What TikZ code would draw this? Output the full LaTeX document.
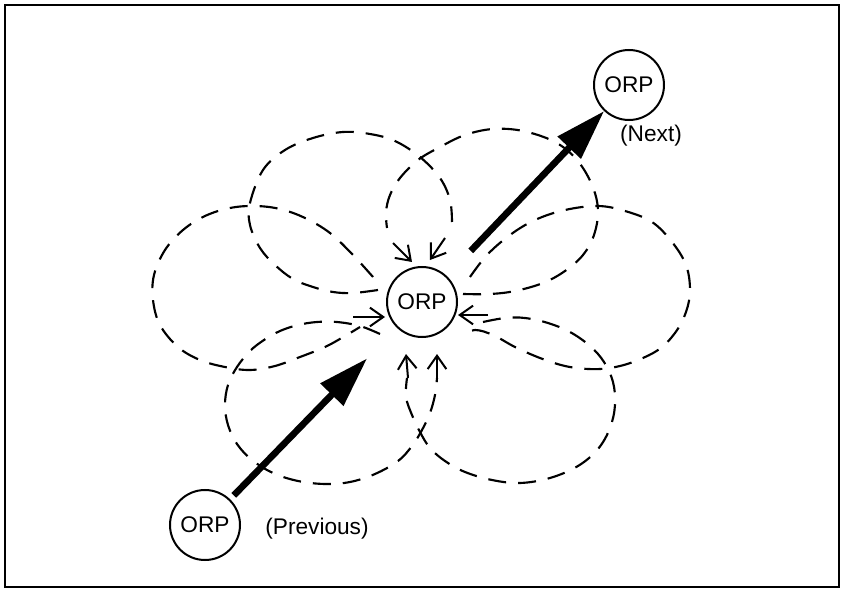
\documentclass[tikz,border=0pt]{standalone}
\usepackage{fontspec}
\setmainfont{Liberation Sans}
\usetikzlibrary{arrows.meta}
\begin{document}
\begin{tikzpicture}[x=0.75pt,y=-0.75pt,
  orp/.style={draw,circle,line width=1.5pt,minimum size=52.5pt,inner sep=0pt,font=\fontsize{17}{20}\selectfont},
  lbl/.style={font=\fontsize{17}{20}\selectfont,inner sep=0pt},
  petal/.style={line width=1.6pt,dash pattern=on 13.5pt off 9pt},
  small/.style={line width=1.5pt,-{Straight Barb[length=10pt,width=14pt,line width=1.5pt]}},
  big/.style={line width=5pt,-{Triangle[length=38pt,width=23pt]}}]
\useasboundingbox (0,0) rectangle (844,592);
\draw[line width=1.3pt] (5,5) rectangle (839,587);
\node[orp] (c) at (422,302) {ORP};
\node[orp] (nx) at (629,85) {ORP};
\node[orp] (pv) at (205,525) {ORP};
\node[lbl] (lnx) at (651,136) {(Next)};
\node[lbl] (lpv) at (317,529) {(Previous)};
% petals
\draw[petal] plot[smooth,tension=0.6] coordinates {(378,290) (353,293) (333,292) (313,287) (293,279) (275,265) (260,248) (250,225) (250,203) (263,170) (285,150) (313,138) (343,132) (370,134) (395,141) (420,157) (440,178) (450,200) (452,222)};
\draw[petal] plot[smooth,tension=0.6] coordinates {(463,294) (490,294) (515,291) (543,283) (565,271) (583,255) (594,235) (598,210) (592,185) (577,160) (555,142) (523,131) (493,129) (465,135) (440,147) (418,160) (400,178) (390,195) (386,212) (387,228)};
\draw[petal] plot[smooth,tension=0.6] coordinates {(373,277) (353,255) (330,233) (305,218) (280,209) (255,206) (230,208) (205,216) (183,230) (165,250) (154,275) (153,300) (160,325) (178,347) (200,360) (225,367) (250,370) (275,366) (300,357) (325,347) (345,336) (360,327)};
\draw[petal] plot[smooth,tension=0.6] coordinates {(470,277) (487,255) (510,235) (535,220) (565,210) (598,206) (625,211) (652,222) (672,242) (686,265) (690,290) (686,312) (675,333) (658,350) (633,362) (610,368) (588,369) (565,366) (540,358) (515,347) (493,335) (475,330) (461,335)};
\draw[petal] plot[smooth,tension=0.6] coordinates {(380,334) (360,326) (337,322) (317,322) (298,325) (280,331) (264,340) (250,351) (237,367) (228,385) (225,405) (228,425) (237,444) (252,460) (273,473) (298,481) (325,484) (350,482) (375,474) (398,461) (412,446) (422,430) (430,413) (435,395) (437,378)};
\draw[petal] plot[smooth,tension=0.6] coordinates {(483,322) (505,318) (525,318) (548,323) (570,332) (590,346) (604,362) (613,382) (615,405) (610,428) (598,449) (578,466) (550,478) (520,483) (492,480) (465,472) (445,461) (430,448) (420,432) (412,415) (406,397) (407,378)};
% small arrows
\coordinate (a1) at (393,243); \coordinate (b1) at (412,262);
\coordinate (a2) at (445,238); \coordinate (b2) at (430,260);
\coordinate (a3) at (353,317); \coordinate (b3) at (385,317);
\coordinate (a4) at (488,315); \coordinate (b4) at (458,315);
\coordinate (a5) at (408,378); \coordinate (b5) at (406,354);
\coordinate (a6) at (437,378); \coordinate (b6) at (437,354);
\foreach \i in {1,...,6} \draw[small] (a\i) -- (b\i);
% big arrows
\draw[big,shorten <=4pt,shorten >=32pt] (pv) -- (c);
\draw[big,shorten <=26pt] (c) -- (nx);
\end{tikzpicture}
\end{document}
